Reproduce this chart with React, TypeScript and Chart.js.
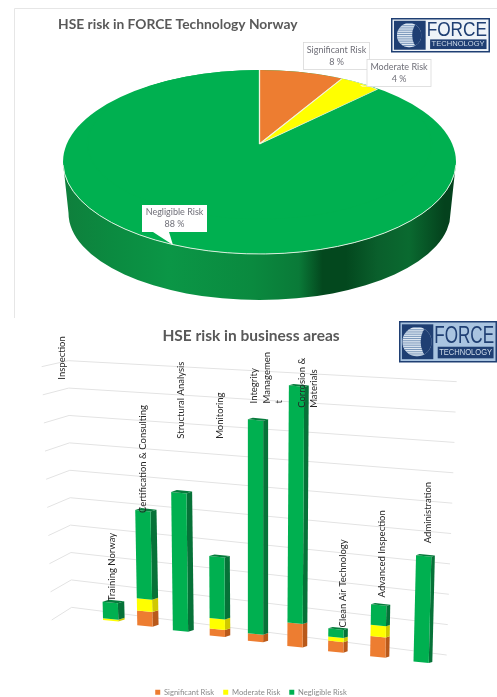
import React, { useEffect, useRef } from "react";
import { Chart, registerables } from "chart.js";

Chart.register(...registerables);

const FONT = "Lato, 'Open Sans', sans-serif";

// Pie chart data
const pieLabels = ["Significant Risk", "Moderate Risk", "Negligible Risk"];
const pieValues = [8, 4, 88];

// Business-area chart data
const categories: (string | string[])[] = [
  "Inspection",
  "Training Norway",
  "Certification & Consulting",
  "Structural Analysis",
  "Monitoring",
  ["Integrity", "Managemen", "t"],
  ["Corrosion &", "Materials"],
  "Clean Air Technology",
  "Advanced Inspection",
  "Administration",
];
const significantRisk = [0, 0, 2.5, 0, 1.2, 1.3, 4, 1.8, 3.5, 0];
const moderateRisk = [0, 0.3, 2.1, 0, 1.8, 0, 0, 0.7, 1.9, 0];
const negligibleRisk = [0, 2.8, 15.1, 23.7, 10.6, 36.6, 40.6, 1.4, 3.5, 18.2];
const yTicksStep = 5;
const yMax = 45;

// Colours
const ORANGE = "#ed7d31";
const YELLOW = "#ffff00";
const GREEN = "#00b050";
const sideColours = ["#b9591a", "#d0c800", "#067238"];
const TOP_FACE = "#067c3c";

// Hand placement of the category labels, relative to each column's top
const labelShiftX = [-16, 1, -1.7, 0, 2.6, -1.5, 6.7, 7, 4, 7];
const labelLift = [235.8, 1.7, -2.3, 54, 118, 16.7, -21.7, 1.7, 7.7, 12.7];

function drawLogo(
  ctx: CanvasRenderingContext2D,
  x: number,
  y: number,
  w: number,
  h: number,
  bg: string
) {
  const navy = "#1f3f73";
  ctx.save();
  ctx.fillStyle = navy;
  ctx.fillRect(x, y, w, h);
  ctx.fillStyle = bg;
  ctx.fillRect(x + 1.5, y + 1.5, w - 3, h - 3);
  // globe block
  const gx = x + 0.03 * w;
  const gy = y + 0.08 * h;
  const gw = 0.32 * w;
  const gh = 0.84 * h;
  ctx.fillStyle = navy;
  ctx.fillRect(gx, gy, gw, gh);
  const cx = gx + gw * 0.48;
  const cy = gy + gh / 2;
  const r = gh * 0.42;
  ctx.save();
  ctx.beginPath();
  ctx.arc(cx, cy, r, 0, Math.PI * 2);
  ctx.clip();
  ctx.fillStyle = "#dfe8f2";
  ctx.fillRect(cx - r, cy - r, 2 * r, 2 * r);
  ctx.fillStyle = "#6f8fb5";
  for (let yy = cy - r; yy < cy + r; yy += 2.2) {
    ctx.fillRect(cx - r, yy, 2 * r, 0.9);
  }
  ctx.fillStyle = navy;
  ctx.beginPath();
  ctx.ellipse(cx + r * 0.8, cy, r * 0.55, r * 1.02, 0, 0, Math.PI * 2);
  ctx.fill();
  ctx.restore();
  // FORCE
  ctx.fillStyle = navy;
  ctx.textAlign = "left";
  ctx.textBaseline = "alphabetic";
  ctx.font = `${h * 0.56}px 'Liberation Sans', sans-serif`;
  ctx.fillText("FORCE", x + 0.36 * w, y + 0.53 * h, 0.61 * w);
  // TECHNOLOGY
  ctx.fillRect(x + 0.395 * w, y + 0.62 * h, 0.57 * w, 0.28 * h);
  ctx.fillStyle = "#cfdcea";
  ctx.font = `${h * 0.22}px 'Liberation Sans', sans-serif`;
  ctx.textBaseline = "middle";
  ctx.fillText("TECHNOLOGY", x + 0.41 * w, y + 0.765 * h, 0.54 * w);
  ctx.restore();
}

function callout(
  ctx: CanvasRenderingContext2D,
  box: [number, number, number, number],
  tail: number[],
  bordered: boolean,
  lines: string[]
) {
  const [x, y, w, h] = box;
  ctx.save();
  ctx.fillStyle = "#ffffff";
  ctx.strokeStyle = "#d9d9d9";
  ctx.lineWidth = 0.8;
  ctx.beginPath();
  ctx.moveTo(tail[0], y + h);
  ctx.lineTo(tail[2], tail[3]);
  ctx.lineTo(tail[1], y + h);
  ctx.closePath();
  ctx.fill();
  ctx.fillRect(x, y, w, h);
  if (bordered) ctx.strokeRect(x, y, w, h);
  ctx.fillStyle = "#6f6f78";
  ctx.font = `9px ${FONT}`;
  ctx.textAlign = "center";
  ctx.textBaseline = "middle";
  lines.forEach((l, i) => ctx.fillText(l, x + w / 2, y + h / 2 - 6 + i * 12));
  ctx.restore();
}

const piePlugin = {
  id: "pie3d",
  beforeDraw(chart: any) {
    const { ctx } = chart;
    ctx.save();
    ctx.strokeStyle = "#e6e6e6";
    ctx.lineWidth = 1;
    ctx.beginPath();
    ctx.moveTo(14.5, 318);
    ctx.lineTo(14.5, 8.5);
    ctx.lineTo(497, 8.5);
    ctx.stroke();
    ctx.restore();
  },
  beforeDatasetsDraw(chart: any) {
    const { ctx } = chart;
    const meta = chart.getDatasetMeta(0);
    const cx = 259.5;
    const rx = 196.5;
    const ry = 92;
    const cy = 162;
    const bx = 191;
    const by = 87;
    const bcy = 213;

    // extruded wall
    const wall = ctx.createLinearGradient(cx - rx, 0, cx + rx, 0);
    wall.addColorStop(0, "#0f7f3c");
    wall.addColorStop(0.12, "#0b8a40");
    wall.addColorStop(0.27, "#0b9646");
    wall.addColorStop(0.48, "#0a8a3f");
    wall.addColorStop(0.6, "#0a7a38");
    wall.addColorStop(0.66, "#03481e");
    wall.addColorStop(0.72, "#03481e");
    wall.addColorStop(0.8, "#0a5f2c");
    wall.addColorStop(0.88, "#0a6a30");
    wall.addColorStop(0.97, "#04421d");
    wall.addColorStop(1, "#04421d");
    ctx.save();
    ctx.fillStyle = wall;
    ctx.beginPath();
    ctx.ellipse(cx, cy, rx, ry, 0, Math.PI, 0, true);
    ctx.lineTo(cx + bx, bcy);
    ctx.ellipse(cx, bcy, bx, by, 0, 0, Math.PI);
    ctx.closePath();
    ctx.fill();

    // top face
    ctx.fillStyle = GREEN;
    ctx.beginPath();
    ctx.ellipse(cx, cy, rx, ry, 0, 0, Math.PI * 2);
    ctx.fill();

    // wedges, seen in perspective: the apex lies behind the ellipse centre
    ctx.save();
    ctx.beginPath();
    ctx.ellipse(cx, cy, rx, ry, 0, 0, Math.PI * 2);
    ctx.clip();
    [2, 0, 1].forEach((i) => {
      const arc = meta.data[i];
      const R = arc.outerRadius;
      ctx.save();
      ctx.translate(cx, 144);
      ctx.scale(172 / R, 75 / R);
      ctx.translate(-arc.x, -arc.y);
      arc.draw(ctx);
      ctx.restore();
    });
    ctx.restore();

    // light rim
    ctx.strokeStyle = "#d8efdc";
    ctx.lineWidth = 1;
    ctx.beginPath();
    ctx.ellipse(cx, cy, rx, ry, 0, Math.PI * 0.99, Math.PI * 0.01, true);
    ctx.stroke();
    ctx.restore();
    return false;
  },
  afterDraw(chart: any) {
    const { ctx } = chart;
    const text = (i: number) => [pieLabels[i], `${pieValues[i]} %`];
    callout(ctx, [303.5, 42.5, 66, 27], [305, 315, 303, 72], true, text(0));
    callout(ctx, [367, 59.5, 64, 27], [362, 368, 360, 85], true, text(1));
    callout(ctx, [142, 205, 65, 27], [153, 169, 173, 245], false, text(2));
    drawLogo(ctx, 391, 18, 99, 34.5, "#eef3f8");
  },
};

const BASE = 322.5;
const columnX = (i: number) => {
  const t = i - 1;
  return 110.7 + 33.6 * t + 0.65 * t * t;
};
const columnDrop = (i: number) => 5.2 * (i - 5);
const columnLean = (i: number) => 0.006 * (i - 5);

function applyColumn(ctx: any, i: number, ex: number) {
  const s = columnLean(i);
  ctx.transform(1, 0.1, -s, 1, columnX(i) - ex + s * BASE, columnDrop(i) - 0.1 * ex);
}

const barPlugin = {
  id: "bars3d",
  beforeDatasetsDraw(chart: any) {
    const { ctx } = chart;
    const yScale = chart.scales.y;
    const zero = yScale.getPixelForValue(0);
    const span = zero - yScale.getPixelForValue(yMax);

    // back wall gridlines, fanned out by perspective
    ctx.save();
    ctx.strokeStyle = "#e3e3e3";
    ctx.lineWidth = 1;
    yScale.ticks.forEach((tick: any) => {
      const f = (zero - yScale.getPixelForValue(tick.value)) / span;
      ctx.beginPath();
      ctx.moveTo((155 - 30 * f) / 3, (900 - 760 * f) / 3);
      ctx.lineTo((215 - 10 * f) / 3, (862 - 740 * f) / 3);
      ctx.lineTo((1340 + 30 * f) / 3, (1005 - 820 * f) / 3);
      ctx.stroke();
    });
    ctx.restore();

    const count = chart.data.labels.length;
    for (let i = 0; i < count; i++) {
      const depth = 6.4 - 0.36 * (i - 1);
      const rise = depth * 0.42;
      let topEl: any = null;
      chart.data.datasets.forEach((_: any, d: number) => {
        const el = chart.getDatasetMeta(d).data[i];
        if (Math.abs(el.base - el.y) < 0.01) return;
        topEl = el;
        const right = el.x + el.width / 2;
        ctx.save();
        applyColumn(ctx, i, el.x);
        ctx.fillStyle = sideColours[d];
        ctx.beginPath();
        ctx.moveTo(right, el.base);
        ctx.lineTo(right + depth, el.base - rise);
        ctx.lineTo(right + depth, el.y - rise);
        ctx.lineTo(right, el.y);
        ctx.closePath();
        ctx.fill();
        el.draw(ctx);
        ctx.restore();
      });
      if (topEl) {
        const l = topEl.x - topEl.width / 2;
        const r = topEl.x + topEl.width / 2;
        ctx.save();
        applyColumn(ctx, i, topEl.x);
        ctx.fillStyle = TOP_FACE;
        ctx.beginPath();
        ctx.moveTo(l, topEl.y);
        ctx.lineTo(r, topEl.y);
        ctx.lineTo(r + depth, topEl.y - rise);
        ctx.lineTo(l + depth, topEl.y - rise);
        ctx.closePath();
        ctx.fill();
        ctx.restore();
      }
    }
    return false;
  },
  afterDraw(chart: any) {
    const { ctx } = chart;
    const last = chart.getDatasetMeta(chart.data.datasets.length - 1);
    ctx.save();
    ctx.fillStyle = "#262626";
    ctx.font = `9.5px ${FONT}`;
    ctx.textAlign = "left";
    ctx.textBaseline = "middle";
    chart.data.labels.forEach((label: string | string[], i: number) => {
      const lines = Array.isArray(label) ? label : [label];
      const x = columnX(i) + labelShiftX[i];
      const y = last.data[i].y + columnDrop(i) - labelLift[i];
      lines.forEach((line, n) => {
        ctx.save();
        ctx.translate(x + n * 12.6, y);
        ctx.rotate(-Math.PI / 2);
        ctx.fillText(line, 0, 0);
        ctx.restore();
      });
    });
    ctx.restore();
    drawLogo(ctx, 399, 1, 98, 41.5, "#a9c4e0");
  },
};

export default function App() {
  const pieRef = useRef<HTMLCanvasElement>(null);
  const barRef = useRef<HTMLCanvasElement>(null);

  useEffect(() => {
    const pie = new Chart(pieRef.current!, {
      type: "pie",
      data: {
        labels: pieLabels,
        datasets: [
          {
            data: pieValues,
            backgroundColor: [ORANGE, YELLOW, GREEN],
            borderColor: ["#f3f3e0", "#f3f3e0", GREEN],
            borderWidth: 1,
          },
        ],
      },
      options: {
        responsive: false,
        animation: false,
        layout: { padding: { left: 58, right: 37, bottom: 20 } },
        plugins: {
          legend: { display: false },
          tooltip: { enabled: false },
          title: {
            display: true,
            text: "HSE risk in FORCE Technology Norway",
            align: "start",
            color: "#595959",
            font: { family: FONT, size: 13.8, weight: "bold" },
            padding: { top: 16, bottom: 6 },
          },
        },
      },
      plugins: [piePlugin],
    } as any);

    const bars = new Chart(barRef.current!, {
      type: "bar",
      data: {
        labels: categories,
        datasets: [
          { label: "Significant Risk", data: significantRisk, backgroundColor: ORANGE },
          { label: "Moderate Risk", data: moderateRisk, backgroundColor: YELLOW },
          { label: "Negligible Risk", data: negligibleRisk, backgroundColor: GREEN },
        ],
      },
      options: {
        responsive: false,
        animation: false,
        datasets: { bar: { barPercentage: 0.4, categoryPercentage: 1 } },
        layout: { padding: { left: 60, right: 55, top: 0, bottom: 0 } },
        scales: {
          x: {
            stacked: true,
            ticks: { display: false },
            grid: { display: false, drawTicks: false },
            border: { display: false },
            afterFit: (s: any) => {
              s.height = 37.9;
            },
          },
          y: {
            stacked: true,
            min: 0,
            max: yMax,
            ticks: { display: false, stepSize: yTicksStep },
            grid: { display: false, drawTicks: false },
            border: { display: false },
            afterFit: (s: any) => {
              s.width = 0;
            },
          },
        },
        plugins: {
          tooltip: { enabled: false },
          title: {
            display: true,
            text: "HSE risk in business areas",
            color: "#595959",
            font: { family: FONT, size: 15.5, weight: "bold" },
            padding: { top: 7, bottom: 33 },
          },
          legend: {
            position: "bottom",
            labels: {
              boxWidth: 5,
              boxHeight: 5,
              padding: 9,
              color: "#8a8a8a",
              font: { family: FONT, size: 7.6 },
            },
          },
        },
      },
      plugins: [barPlugin],
    } as any);

    return () => {
      pie.destroy();
      bars.destroy();
    };
  }, []);

  const canvasStyle = (top: number): React.CSSProperties => ({
    position: "absolute",
    left: 0,
    top,
    filter: "blur(0.35px)",
  });

  return (
    <div
      style={{
        position: "absolute",
        left: 0,
        top: 0,
        width: 497,
        height: 697,
        overflow: "hidden",
        background: "#ffffff",
      }}
    >
      <canvas ref={pieRef} width={497} height={320} style={canvasStyle(0)} />
      <canvas ref={barRef} width={497} height={386} style={canvasStyle(320)} />
    </div>
  );
}
